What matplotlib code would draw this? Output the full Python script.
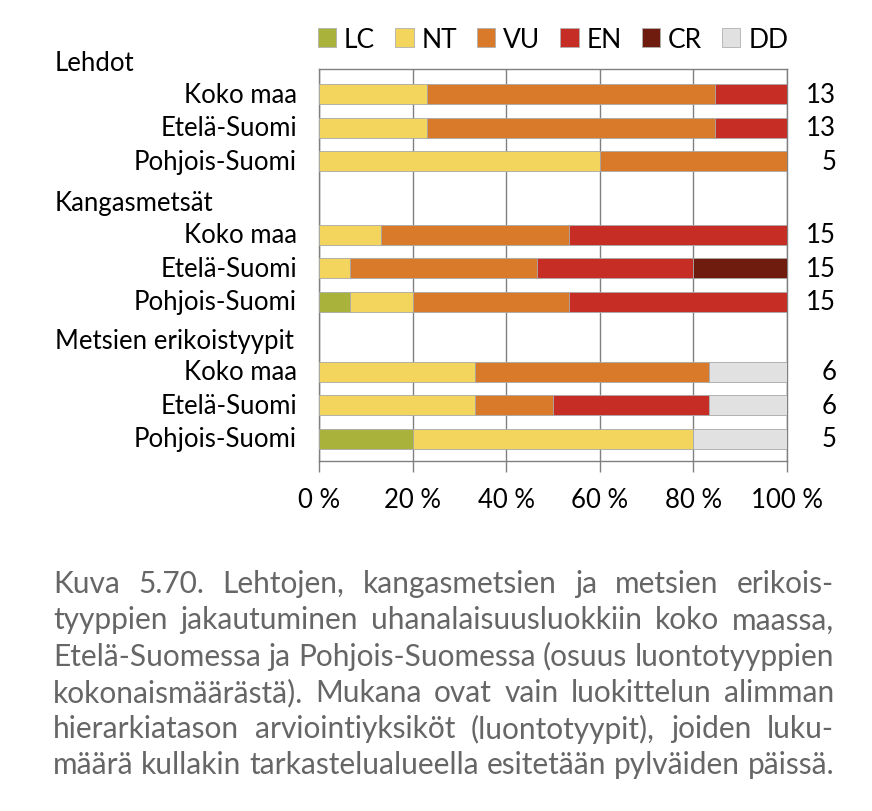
import matplotlib.pyplot as plt
from matplotlib.patches import Patch
import numpy as np

plt.rcParams['font.family'] = ['Lato', 'DejaVu Sans']

classes = ['LC', 'NT', 'VU', 'EN', 'CR', 'DD']
colors = ['#a9b23a', '#f3d55e', '#d97a2b', '#c52d25', '#6f1b0e', '#e1e1e1']

groups = ['Lehdot', 'Kangasmetsät', 'Metsien erikoistyypit']
regions = ['Koko maa', 'Etelä-Suomi', 'Pohjois-Suomi']

# number of habitat types in each class, rows: group x region
lc = [0, 0, 0, 0, 0, 1, 0, 0, 1]
nt = [3, 3, 3, 2, 1, 2, 2, 2, 3]
vu = [8, 8, 2, 6, 6, 5, 3, 1, 0]
en = [2, 2, 0, 7, 5, 7, 0, 2, 0]
cr = [0, 0, 0, 0, 3, 0, 0, 0, 0]
dd = [0, 0, 0, 0, 0, 0, 1, 1, 1]

caption_lines = [
    "Kuva 5.70. Lehtojen, kangasmetsien ja metsien erikois-",
    "tyyppien jakautuminen uhanalaisuusluokkiin koko maassa,",
    "Etelä-Suomessa ja Pohjois-Suomessa (osuus luontotyyppien",
    "kokonaismäärästä). Mukana ovat vain luokittelun alimman",
    "hierarkiatason arviointiyksiköt (luontotyypit), joiden luku-",
    "määrä kullakin tarkastelualueella esitetään pylväiden päissä.",
]

counts = np.array([lc, nt, vu, en, cr, dd], dtype=float)
totals = counts.sum(axis=0)
shares = counts / totals * 100

W, H = 872, 812
fs = 18.5
fig = plt.figure(figsize=(W / 100, H / 100), dpi=100)
ax = fig.add_axes([319 / W, 1 - 462 / H, 468 / W, 392 / H])

# row positions: three groups of three bars with a header gap between
ypos = []
for g in range(3):
    for r in range(3):
        ypos.append(g * 4.1 + r + (0.1 if g else 0))
ypos = np.array(ypos)

left = np.zeros(len(ypos))
for k, cls in enumerate(classes):
    ax.barh(ypos, shares[k], left=left, height=0.6, color=colors[k],
            edgecolor='#a8a8a8', linewidth=0.6, zorder=3)
    left += shares[k]

ax.set_ylim(10.96, -0.75)
ax.set_xlim(0, 100)
ax.set_yticks([])
ax.set_xticks(range(0, 101, 20))
ax.set_xticklabels([f'{v} %' for v in range(0, 101, 20)], fontsize=fs)
ax.tick_params(axis='x', direction='out', length=8, width=1, color='#808080', pad=11)
ax.grid(axis='x', color='#808080', linewidth=1)
ax.set_axisbelow(True)
for s in ax.spines.values():
    s.set_color('#808080')
    s.set_linewidth(1)

trans = ax.get_yaxis_transform()
for g, name in enumerate(groups):
    ax.text(-0.564, ypos[g * 3] - 0.95, name, transform=trans, ha='left', va='center',
            fontsize=fs, clip_on=False)
    for r, reg in enumerate(regions):
        ax.text(-0.047, ypos[g * 3 + r], reg, transform=trans, ha='right', va='center',
                fontsize=fs, clip_on=False)
for y, n in zip(ypos, totals):
    ax.text(1.105, y, f'{int(n)}', transform=trans, ha='right', va='center',
            fontsize=fs, clip_on=False)

handles = [Patch(facecolor=c, edgecolor='#b0b0b0', linewidth=0.6) for c in colors]
fig.legend(handles, classes, loc='center', bbox_to_anchor=(553 / W, 1 - 40 / H), ncol=6,
           frameon=False, fontsize=19, handlelength=0.7, handleheight=0.7,
           handletextpad=0.3, columnspacing=0.75, borderaxespad=0)

# caption, justified between two margins
fig.canvas.draw()
rend = fig.canvas.get_renderer()
x0, x1 = 53, 834
for i, line in enumerate(caption_lines):
    words = line.split(' ')
    y = 1 - (584 + i * 36.3) / H
    texts = [fig.text(0, y, w, fontsize=21.5, color='#666666', va='center', ha='left')
             for w in words]
    widths = [t.get_window_extent(rend).width for t in texts]
    gap = (x1 - x0 - sum(widths)) / (len(words) - 1)
    x = x0
    for t, w in zip(texts, widths):
        t.set_x(x / W)
        x += w + gap

fig.savefig('out.png', dpi=100)
